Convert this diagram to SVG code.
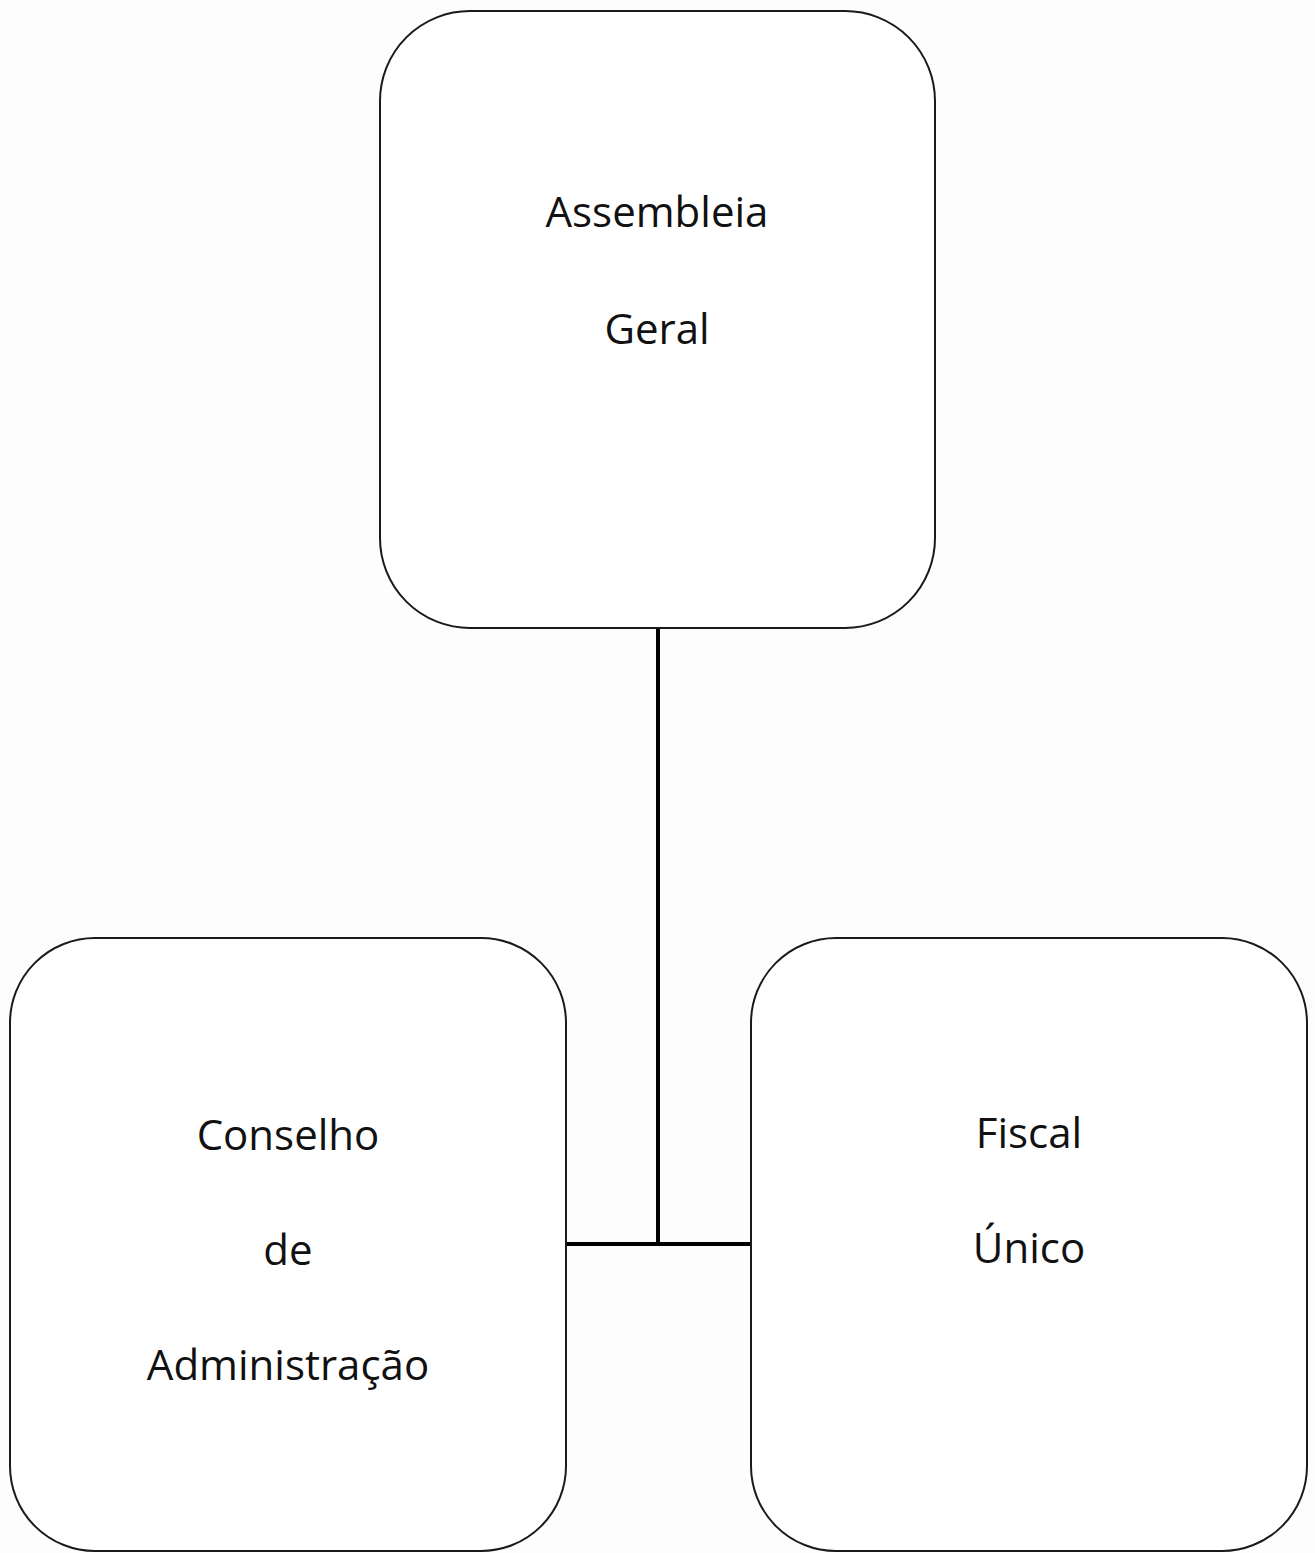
<svg xmlns="http://www.w3.org/2000/svg" width="1315" height="1553" viewBox="0 0 1315 1553">
<style>
.box{fill:#ffffff;stroke:#1a1a1a;stroke-width:2}
.lbl{font-family:"Open Sans","Noto Sans",sans-serif;font-size:42px;fill:#111;text-anchor:middle}
.conn{stroke:#000;stroke-width:4;fill:none}
</style>
<rect width="1315" height="1553" fill="#fdfdfd"/>
<g id="connectors">
<line class="conn" x1="658" y1="628" x2="658" y2="1244"/>
<line class="conn" x1="566" y1="1244" x2="751" y2="1244"/>
</g>
<g id="assembleia">
<rect class="box" x="380" y="11" width="555" height="617" rx="90" ry="90"/>
<text class="lbl" x="657" y="227">Assembleia</text>
<text class="lbl" x="657" y="344">Geral</text>
</g>
<g id="conselho">
<rect class="box" x="10" y="938" width="556" height="613" rx="85" ry="85"/>
<text class="lbl" x="288" y="1150">Conselho</text>
<text class="lbl" x="288" y="1265">de</text>
<text class="lbl" x="288" y="1380">Administração</text>
</g>
<g id="fiscal">
<rect class="box" x="751" y="938" width="556" height="613" rx="85" ry="85"/>
<text class="lbl" x="1029" y="1148">Fiscal</text>
<text class="lbl" x="1029" y="1263">Único</text>
</g>
</svg>
